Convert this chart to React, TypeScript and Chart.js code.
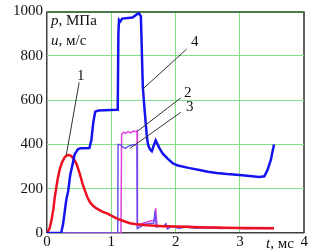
import React, { useEffect, useRef } from "react";
import { Chart, registerables } from "chart.js";

Chart.register(...registerables);

// Axis ticks
const xTicks = [0, 1, 2, 3, 4];
const yTicks = [0, 200, 400, 600, 800, 1000];

// Curve 1 (red)
const curve1T = [0, 0.04, 0.07, 0.1, 0.12, 0.15, 0.17, 0.2, 0.23, 0.27, 0.31, 0.35, 0.38, 0.42, 0.46, 0.51, 0.55, 0.59, 0.63, 0.67, 0.72, 0.77, 0.85, 0.93, 1.0, 1.1, 1.2, 1.29, 1.4, 1.55, 1.8, 2.0, 2.5, 3.0, 3.53];
const curve1V = [0, 20, 58, 110, 160, 215, 250, 290, 316, 340, 351, 352, 347, 332, 311, 267, 225, 191, 160, 138, 122, 111, 98, 89, 78, 64, 53, 44, 39, 35, 31, 29, 25, 23, 21];

// Curve 2 (magenta)
const curve2T = [0, 1.15, 1.16, 1.19, 1.22, 1.26, 1.3, 1.34, 1.38, 1.4, 1.405, 1.45, 1.5, 1.56, 1.62, 1.67, 1.69, 1.71, 1.78, 1.85, 2.0, 2.2, 2.4, 2.6, 2.8, 3.0, 3.2, 3.53];
const curve2V = [0, 0, 445, 455, 450, 458, 452, 460, 458, 462, 30, 38, 45, 50, 55, 58, 112, 35, 30, 33, 28, 30, 25, 27, 23, 24, 21, 22];

// Curve 3 (violet)
const curve3T = [0, 1.1, 1.105, 1.15, 1.17, 1.22, 1.26, 1.32, 1.39, 1.4, 1.405, 1.44, 1.5, 1.58, 1.66, 1.68, 1.7, 1.76, 1.82, 1.85, 1.87, 1.95, 2.05, 2.15, 2.3, 2.5, 2.7, 2.9, 3.1, 3.3, 3.53];
const curve3V = [0, 0, 400, 398, 390, 382, 391, 397, 400, 400, 20, 25, 38, 42, 45, 100, 28, 30, 33, 42, 18, 30, 20, 27, 22, 24, 20, 23, 19, 22, 20];

// Curve 4 (blue)
const curve4T = [0, 0.22, 0.25, 0.3, 0.33, 0.36, 0.39, 0.43, 0.48, 0.52, 0.66, 0.69, 0.72, 0.75, 0.8, 1.09, 1.1, 1.11, 1.12, 1.14, 1.17, 1.33, 1.4, 1.43, 1.46, 1.49, 1.52, 1.55, 1.57, 1.6, 1.63, 1.66, 1.69, 1.72, 1.75, 1.8, 1.88, 1.95, 2.02, 2.2, 2.37, 2.5, 2.64, 2.8, 2.99, 3.15, 3.3, 3.38, 3.43, 3.48, 3.53];
const curve4V = [0, 0, 40, 150, 190, 260, 300, 355, 378, 383, 384, 420, 500, 548, 553, 556, 560, 900, 962, 955, 968, 973, 988, 992, 978, 658, 547, 444, 400, 378, 369, 395, 418, 400, 382, 358, 335, 316, 306, 294, 284, 277, 271, 266, 262, 257, 253, 256, 285, 330, 400];

// Callouts
const calloutText = ["1", "4", "2", "3"];
const calloutLabelT = [0.5, 2.17, 2.08, 2.08];
const calloutLabelV = [680, 830, 610, 545];
const calloutTargetT = [0.3, 1.49, 1.41, 1.29];
const calloutTargetV = [352, 650, 460, 382];

const pts = (t: number[], v: number[]) => t.map((x, i) => ({ x, y: v[i] }));

const SERIF = '"Liberation Serif"';

const textPlugin = {
  id: "texts",
  afterDraw(chart: any) {
    const { ctx, chartArea, scales } = chart;
    const xs = scales.x;
    const ys = scales.y;
    ctx.save();
    ctx.strokeStyle = "#333";
    ctx.lineWidth = 1;
    for (let i = 0; i < calloutText.length; i++) {
      const lx = xs.getPixelForValue(calloutLabelT[i]);
      const ly = ys.getPixelForValue(calloutLabelV[i]);
      const tx = xs.getPixelForValue(calloutTargetT[i]);
      const ty = ys.getPixelForValue(calloutTargetV[i]);
      ctx.beginPath();
      ctx.moveTo(lx, ly);
      ctx.lineTo(tx, ty);
      ctx.stroke();
    }
    ctx.fillStyle = "#111";
    ctx.textBaseline = "alphabetic";
    ctx.font = `15px ${SERIF}`;
    ctx.textAlign = "left";
    const numPos = [
      [77, 80],
      [191, 46],
      [184, 97],
      [186, 111],
    ];
    for (let i = 0; i < calloutText.length; i++) {
      ctx.fillText(calloutText[i], numPos[i][0], numPos[i][1]);
    }
    const drawMixed = (parts: [string, boolean][], x: number, y: number) => {
      let cx = x;
      for (const [s, it] of parts) {
        ctx.font = `${it ? "italic " : ""}15px ${SERIF}`;
        ctx.fillText(s, cx, y);
        cx += ctx.measureText(s).width;
      }
    };
    const left = chartArea.left;
    drawMixed([["p", true], [", МПа", false]], left + 4, 25);
    drawMixed([["u", true], [", м/с", false]], left + 4, 45);
    drawMixed([["t", true], [", мс", false]], 266, 248);
    ctx.restore();
  },
};

export default function App() {
  const ref = useRef<HTMLCanvasElement>(null);
  useEffect(() => {
    if (!ref.current) return;
    const gridColor = (edgeLow: string, edgeHigh: string, lo: number, hi: number) => (c: any) => {
      const v = c.tick?.value;
      if (v === lo) return edgeLow;
      if (v === hi) return edgeHigh;
      return "#84e084";
    };
    const gridWidth = (lo: number, hi: number, wl: number, wh: number) => (c: any) => {
      const v = c.tick?.value;
      if (v === lo) return wl;
      if (v === hi) return wh;
      return 1;
    };
    const chart = new Chart(ref.current, {
      type: "line",
      data: {
        datasets: [
          { label: "4", data: pts(curve4T, curve4V), borderColor: "#1414ee", borderWidth: 2.5, pointRadius: 0, order: 1 },
          { label: "1", data: pts(curve1T, curve1V), borderColor: "#ee1020", borderWidth: 2.5, pointRadius: 0, order: 2 },
          { label: "3", data: pts(curve3T, curve3V), borderColor: "#6a50f0", borderWidth: 1.5, pointRadius: 0, order: 3 },
          { label: "2", data: pts(curve2T, curve2V), borderColor: "#e040e0", borderWidth: 1.5, pointRadius: 0, order: 4 },
        ],
      },
      options: {
        animation: false,
        responsive: false,
        parsing: false as any,
        layout: { padding: { top: 7, right: 4, left: 0, bottom: 0 } },
        plugins: { legend: { display: false }, tooltip: { enabled: false } },
        elements: { line: { tension: 0 } },
        scales: {
          x: {
            type: "linear",
            min: 0,
            max: 4,
            afterBuildTicks: (s: any) => {
              s.ticks = xTicks.map((value) => ({ value }));
            },
            afterFit: (s: any) => {
              s.height = 19;
            },
            ticks: {
              autoSkip: false,
              maxRotation: 0,
              padding: 2,
              color: "#111",
              font: { family: SERIF, size: 15, lineHeight: 1 },
              callback: (v: any) => String(v),
            },
            grid: {
              drawTicks: false,
              color: gridColor("#404040", "#606060", 0, 4),
              lineWidth: gridWidth(0, 4, 1.5, 2),
            },
            border: { display: false },
          },
          y: {
            type: "linear",
            min: 0,
            max: 1000,
            afterBuildTicks: (s: any) => {
              s.ticks = yTicks.map((value) => ({ value }));
            },
            afterFit: (s: any) => {
              s.width = 47;
            },
            ticks: {
              autoSkip: false,
              padding: 4,
              color: "#111",
              font: { family: SERIF, size: 15, lineHeight: 1 },
              callback: (v: any) => String(v),
            },
            grid: {
              drawTicks: false,
              color: gridColor("#404040", "#4a7a4a", 0, 1000),
              lineWidth: gridWidth(0, 1000, 1.5, 2),
            },
            border: { display: false },
          },
        },
      },
      plugins: [textPlugin],
    });
    return () => chart.destroy();
  }, []);
  return (
    <div style={{ position: "fixed", left: 0, top: 0, width: 310, height: 252, background: "#fff" }}>
      <canvas ref={ref} width={310} height={252} style={{ display: "block" }} />
    </div>
  );
}
